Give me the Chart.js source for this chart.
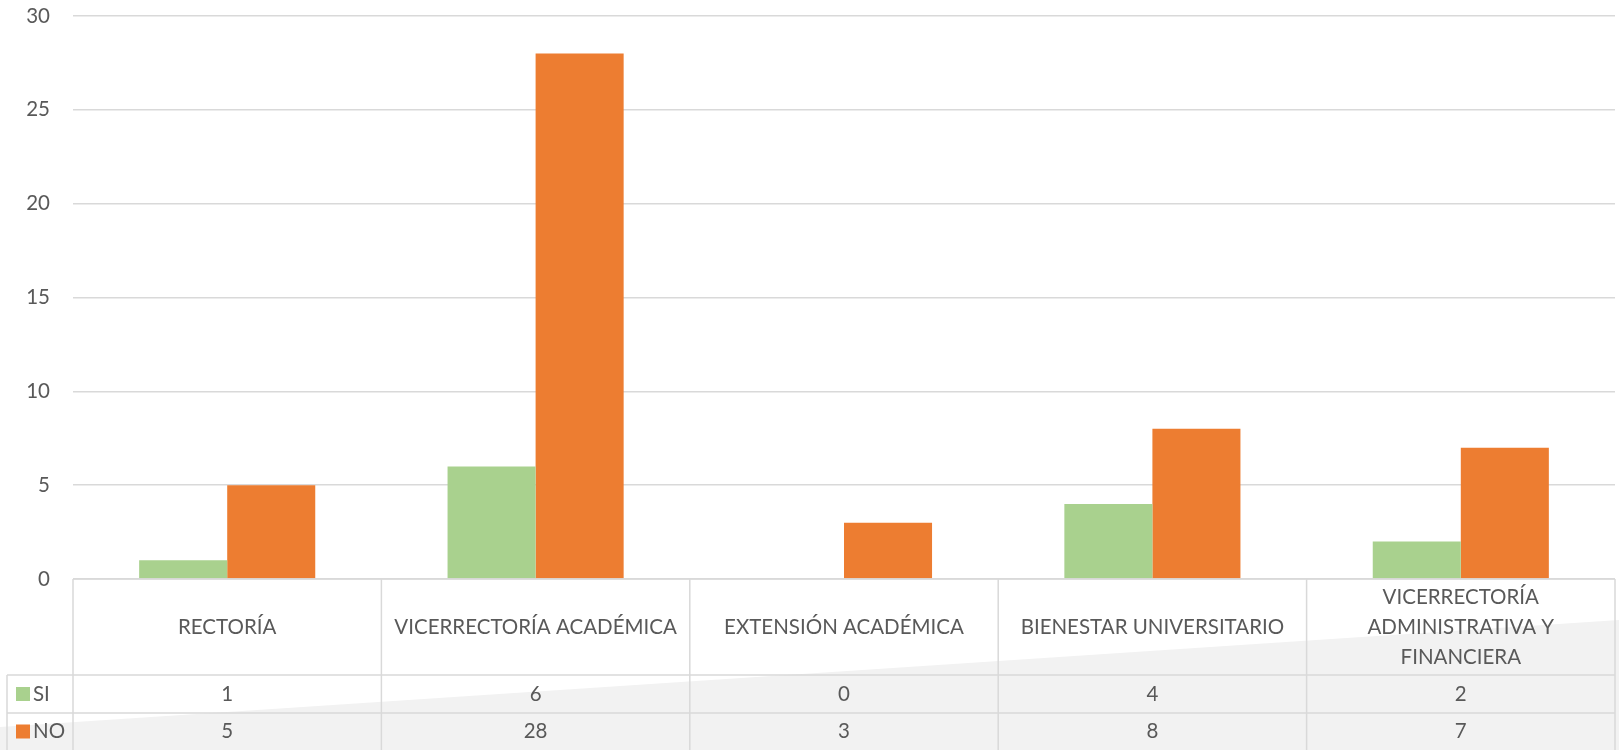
<!DOCTYPE html>
<html>
<head>
<meta charset="utf-8">
<script src="https://cdn.jsdelivr.net/npm/chart.js@4/dist/chart.umd.min.js"></script>
<style>
html,body{margin:0;padding:0;background:#fff;}
#wrap{width:1619px;height:750px;}
</style>
</head>
<body>
<div id="wrap"><canvas id="c" width="1619" height="750"></canvas></div>
<script>
const categories = ["RECTORÍA", "VICERRECTORÍA ACADÉMICA", "EXTENSIÓN ACADÉMICA", "BIENESTAR UNIVERSITARIO", ["VICERRECTORÍA", "ADMINISTRATIVA Y", "FINANCIERA"]];
const seriesNames = ["SI", "NO"];
const siValues = [1, 6, 0, 4, 2];
const noValues = [5, 28, 3, 8, 7];
const yTicks = [0, 5, 10, 15, 20, 25, 30];

const FONT = "Lato, 'Open Sans', sans-serif";
const TXT = "#595959";
const GRID = "#d9d9d9";
const colors = ["#A9D18E", "#ED7D31"];

const bgPlugin = {
  id: 'bg',
  beforeDraw(chart) {
    const ctx = chart.ctx;
    const W = chart.width, H = chart.height;
    ctx.save();
    ctx.fillStyle = "#f2f2f2";
    ctx.beginPath();
    ctx.moveTo(0, 727);
    ctx.lineTo(W, 620);
    ctx.lineTo(W, H);
    ctx.lineTo(0, H);
    ctx.closePath();
    ctx.fill();
    ctx.restore();
  }
};

const tablePlugin = {
  id: 'table',
  afterDraw(chart) {
    const ctx = chart.ctx;
    const a = chart.chartArea;
    const left = a.left, right = a.right, top = a.bottom;
    const n = categories.length;
    const cw = (right - left) / n;
    const r1 = top + 96, r2 = r1 + 38, r3 = chart.height;
    const legLeft = 7;
    ctx.save();
    ctx.strokeStyle = GRID;
    ctx.lineWidth = 1.5;
    ctx.beginPath();
    ctx.moveTo(left, top); ctx.lineTo(right, top);
    ctx.moveTo(legLeft, r1); ctx.lineTo(right, r1);
    ctx.moveTo(legLeft, r2); ctx.lineTo(right, r2);
    for (let i = 0; i <= n; i++) {
      const x = left + i * cw;
      ctx.moveTo(x, top); ctx.lineTo(x, r3);
    }
    ctx.moveTo(legLeft, r1); ctx.lineTo(legLeft, r3);
    ctx.stroke();

    ctx.fillStyle = TXT;
    ctx.font = "20.5px " + FONT;
    ctx.textAlign = "center";
    ctx.textBaseline = "middle";
    const hMid = (top + r1) / 2;
    categories.forEach((c, i) => {
      const cx = left + (i + 0.5) * cw;
      const lines = Array.isArray(c) ? c : [c];
      const lh = 30;
      lines.forEach((ln, j) => {
        ctx.fillText(ln, cx, hMid + (j - (lines.length - 1) / 2) * lh);
      });
    });
    const rows = [siValues, noValues];
    const mids = [(r1 + r2) / 2, (r2 + r3) / 2];
    rows.forEach((vals, k) => {
      vals.forEach((v, i) => {
        const cx = left + (i + 0.5) * cw;
        ctx.fillStyle = TXT;
        ctx.textAlign = "center";
        ctx.fillText(String(v), cx, mids[k]);
      });
      ctx.fillStyle = colors[k];
      ctx.fillRect(16, mids[k] - 7, 14, 14);
      ctx.fillStyle = TXT;
      ctx.textAlign = "left";
      ctx.fillText(seriesNames[k], 33, mids[k]);
    });
    ctx.restore();
  }
};

new Chart(document.getElementById('c'), {
  type: 'bar',
  data: {
    labels: categories.map(c => Array.isArray(c) ? c.join(' ') : c),
    datasets: [
      { label: seriesNames[0], data: siValues, backgroundColor: colors[0], barPercentage: 1.0, categoryPercentage: 0.571 },
      { label: seriesNames[1], data: noValues, backgroundColor: colors[1], barPercentage: 1.0, categoryPercentage: 0.571 }
    ]
  },
  options: {
    responsive: false,
    animation: false,
    layout: { padding: { top: 16, bottom: 171, right: 4, left: 0 } },
    plugins: { legend: { display: false }, tooltip: { enabled: false } },
    scales: {
      x: { display: false, grid: { display: false } },
      y: {
        min: 0, max: 30,
        afterFit(s) { s.width = 73; s.paddingTop = 0; s.paddingBottom = 0; },
        afterBuildTicks(s) { s.ticks = yTicks.map(v => ({ value: v })); },
        border: { display: false },
        grid: { color: GRID, lineWidth: 1.5, drawTicks: false },
        ticks: { color: TXT, font: { family: FONT, size: 20.5 }, padding: 23 }
      }
    }
  },
  plugins: [bgPlugin, tablePlugin]
});
</script>
</body>
</html>
